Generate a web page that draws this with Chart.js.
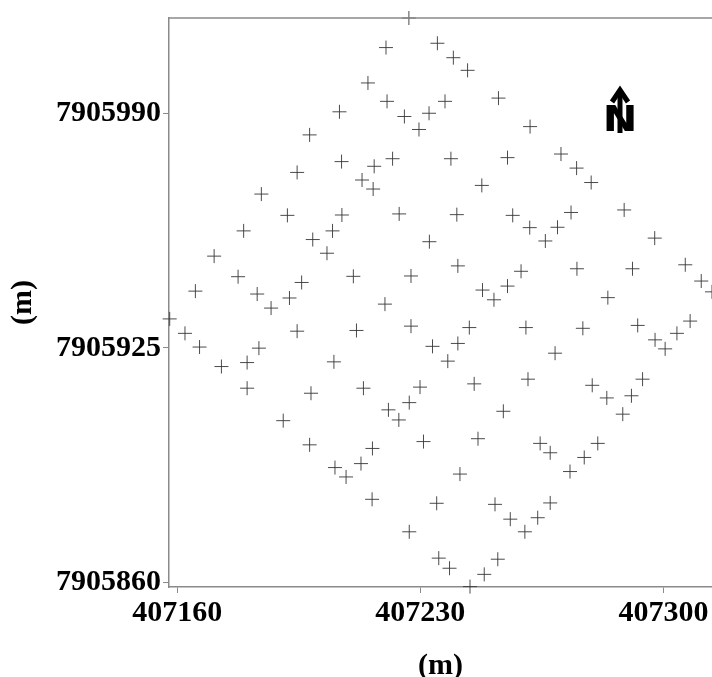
<!DOCTYPE html>
<html lang="en">
<head>
    <meta charset="UTF-8">
    <title>Sampling Grid</title>
    <script src="https://cdn.jsdelivr.net/npm/chart.js"></script>
    <style>
        body {
            margin: 0;
            padding: 0;
            background: rgb(255, 255, 255);
        }
        #wrap {
            width: 712px;
            height: 677px;
        }
    </style>
</head>
<body>
    <div id="wrap">
        <canvas id="grid-chart" width="712" height="677"></canvas>
    </div>

    <script>
        // sample positions, easting / northing in metres
        const eastings = [
            407226.7, 407220.1, 407234.9, 407239.5, 407243.6, 407214.9, 407220.4, 407237.1, 407252.5, 407225.4,
            407232.5, 407229.6, 407261.6, 407206.7, 407198.1, 407207.3, 407194.5, 407184.2, 407191.7, 407207.4,
            407179.1, 407204.7, 407199.0, 407203.1, 407170.6, 407210.7, 407177.5, 407195.8, 407165.2, 407183.0,
            407192.3, 407187.0, 407157.8, 407162.2, 407194.5, 407211.6, 407166.4, 407183.5, 407172.7, 407180.1,
            407205.1, 407180.1, 407198.5, 407213.6, 407190.5, 407198.1, 407205.4, 407208.6, 407222.0, 407216.7,
            407213.2, 407216.4, 407238.8, 407255.1, 407247.7, 407270.5, 407275.0, 407279.2, 407223.9, 407240.5,
            407256.6, 407261.5, 407269.5, 407266.0, 407273.4, 407288.7, 407232.6, 407297.5, 407227.3, 407240.8,
            407219.8, 407247.9, 407251.2, 407255.1, 407259.0, 407275.1, 407291.1, 407284.0, 407306.3, 407310.9,
            407314.0, 407227.3, 407244.1, 407260.4, 407276.8, 407292.6, 407297.6, 407300.5, 407303.9, 407307.7,
            407233.5, 407240.8, 407237.9, 407268.8, 407229.9, 407245.5, 407261.0, 407279.5, 407283.7, 407290.8,
            407294.0, 407220.8, 407223.8, 407226.8, 407253.9, 407288.3, 407216.2, 407212.9, 407230.9, 407246.6,
            407241.4, 407264.5, 407267.4, 407273.1, 407277.2, 407281.1, 407216.1, 407234.7, 407251.5, 407255.9,
            407260.1, 407263.8, 407267.4, 407226.8, 407235.3, 407238.4, 407248.4, 407252.3, 407244.3
        ];
        const northings = [
            7906016.4, 7906008.2, 7906009.4, 7906005.4, 7906001.9, 7905998.4, 7905993.3, 7905993.3, 7905994.2, 7905989.1,
            7905990.0, 7905985.5, 7905986.3, 7905990.4, 7905984.0, 7905976.6, 7905973.6, 7905967.6, 7905961.7, 7905961.8,
            7905957.4, 7905957.4, 7905955.0, 7905951.2, 7905950.4, 7905944.8, 7905944.7, 7905943.1, 7905940.7, 7905939.9,
            7905938.8, 7905936.0, 7905933.0, 7905929.0, 7905929.6, 7905929.8, 7905925.2, 7905924.9, 7905919.8, 7905920.9,
            7905921.1, 7905913.8, 7905912.4, 7905913.8, 7905904.8, 7905898.1, 7905891.8, 7905889.2, 7905977.4, 7905975.3,
            7905971.5, 7905969.0, 7905977.4, 7905977.7, 7905970.0, 7905978.7, 7905974.8, 7905970.8, 7905962.1, 7905961.9,
            7905961.7, 7905958.3, 7905958.4, 7905954.6, 7905962.5, 7905963.2, 7905954.4, 7905955.4, 7905944.9, 7905947.7,
            7905937.1, 7905941.0, 7905938.3, 7905942.1, 7905946.2, 7905946.9, 7905946.9, 7905938.9, 7905948.0, 7905943.5,
            7905940.5, 7905931.0, 7905930.6, 7905930.6, 7905930.4, 7905931.2, 7905927.2, 7905924.7, 7905929.0, 7905932.4,
            7905925.4, 7905926.2, 7905921.3, 7905923.5, 7905914.1, 7905915.0, 7905916.3, 7905914.6, 7905911.1, 7905911.7,
            7905916.3, 7905907.8, 7905905.0, 7905909.8, 7905907.4, 7905906.6, 7905897.1, 7905892.9, 7905899.0, 7905899.8,
            7905890.0, 7905898.5, 7905895.9, 7905890.7, 7905894.6, 7905898.5, 7905883.0, 7905881.9, 7905881.6, 7905877.5,
            7905874.0, 7905877.9, 7905882.0, 7905874.0, 7905866.7, 7905863.9, 7905862.2, 7905866.4, 7905858.8
        ];

        // axis ticks
        const xTicks = [407160, 407230, 407300];
        const yTicks = [7905860, 7905925, 7905990];

        const axisFont = { family: "'Liberation Serif', 'Times New Roman', serif", size: 30, weight: 'bold' };
        const titleFont = { family: "'Liberation Serif', 'Times New Roman', serif", size: 30, weight: 'bold', lineHeight: 0.75 };
        const frameColor = '#8a8a8a';

        // top edge of the frame and the north arrow
        const frameAndNorth = {
            id: 'frameAndNorth',
            afterDraw(chart) {
                const { ctx, chartArea: a } = chart;
                ctx.save();
                ctx.strokeStyle = frameColor;
                ctx.lineWidth = 1.5;
                ctx.beginPath();
                ctx.moveTo(a.left, a.top);
                ctx.lineTo(a.right, a.top);
                ctx.stroke();

                const nx = a.right - 92;
                const ny = a.top + 68;
                ctx.strokeStyle = '#000';
                ctx.lineWidth = 5;
                ctx.lineJoin = 'miter';
                ctx.beginPath();
                ctx.moveTo(nx - 8, ny + 16);
                ctx.lineTo(nx, ny + 4);
                ctx.lineTo(nx + 8, ny + 16);
                ctx.stroke();
                ctx.beginPath();
                ctx.moveTo(nx, ny + 5);
                ctx.lineTo(nx, ny + 47);
                ctx.stroke();

                ctx.translate(nx, ny + 45);
                ctx.scale(1.15, 1);
                ctx.fillStyle = '#000';
                ctx.font = "bold 36px 'DejaVu Sans', sans-serif";
                ctx.textAlign = 'center';
                ctx.textBaseline = 'alphabetic';
                ctx.fillText('N', 0, 0);
                ctx.restore();
            }
        };

        const points = eastings.map((e, i) => ({ x: e, y: northings[i] }));

        new Chart(document.getElementById('grid-chart'), {
            type: 'scatter',
            data: {
                datasets: [{
                    data: points,
                    pointStyle: 'cross',
                    pointRadius: 7,
                    pointHoverRadius: 7,
                    borderWidth: 1,
                    borderColor: 'rgba(55, 55, 55, 0.9)',
                    clip: false
                }]
            },
            options: {
                responsive: false,
                animation: false,
                events: [],
                layout: {
                    autoPadding: false,
                    padding: { top: 18, right: 0, bottom: 0, left: 0 }
                },
                plugins: {
                    legend: { display: false },
                    tooltip: { enabled: false }
                },
                scales: {
                    x: {
                        type: 'linear',
                        min: 407157.6,
                        max: 407314.0,
                        afterBuildTicks: s => { s.ticks = xTicks.map(v => ({ value: v })); },
                        afterFit: s => {
                            s.height = 90;
                            s.paddingLeft = 0;
                            s.paddingRight = 0;
                        },
                        grid: { drawOnChartArea: false, drawTicks: true, tickLength: 6, color: frameColor },
                        border: { display: true, color: frameColor, width: 1.5 },
                        ticks: {
                            color: '#000',
                            font: axisFont,
                            padding: 2,
                            maxRotation: 0,
                            callback: v => String(v)
                        },
                        title: { display: true, text: '(m)', color: '#000', font: titleFont, padding: 0 }
                    },
                    y: {
                        type: 'linear',
                        min: 7905858.7,
                        max: 7906016.4,
                        afterBuildTicks: s => { s.ticks = yTicks.map(v => ({ value: v })); },
                        afterFit: s => {
                            s.width = 169;
                            s.paddingTop = 0;
                            s.paddingBottom = 0;
                        },
                        grid: { drawOnChartArea: false, drawTicks: true, tickLength: 6, color: frameColor },
                        border: { display: true, color: frameColor, width: 1.5 },
                        ticks: {
                            color: '#000',
                            font: axisFont,
                            padding: 2,
                            callback: v => String(v)
                        },
                        title: { display: true, text: '(m)', color: '#000', font: titleFont, padding: { top: 12, bottom: 0 } }
                    }
                }
            },
            plugins: [frameAndNorth]
        });
    </script>
</body>
</html>
